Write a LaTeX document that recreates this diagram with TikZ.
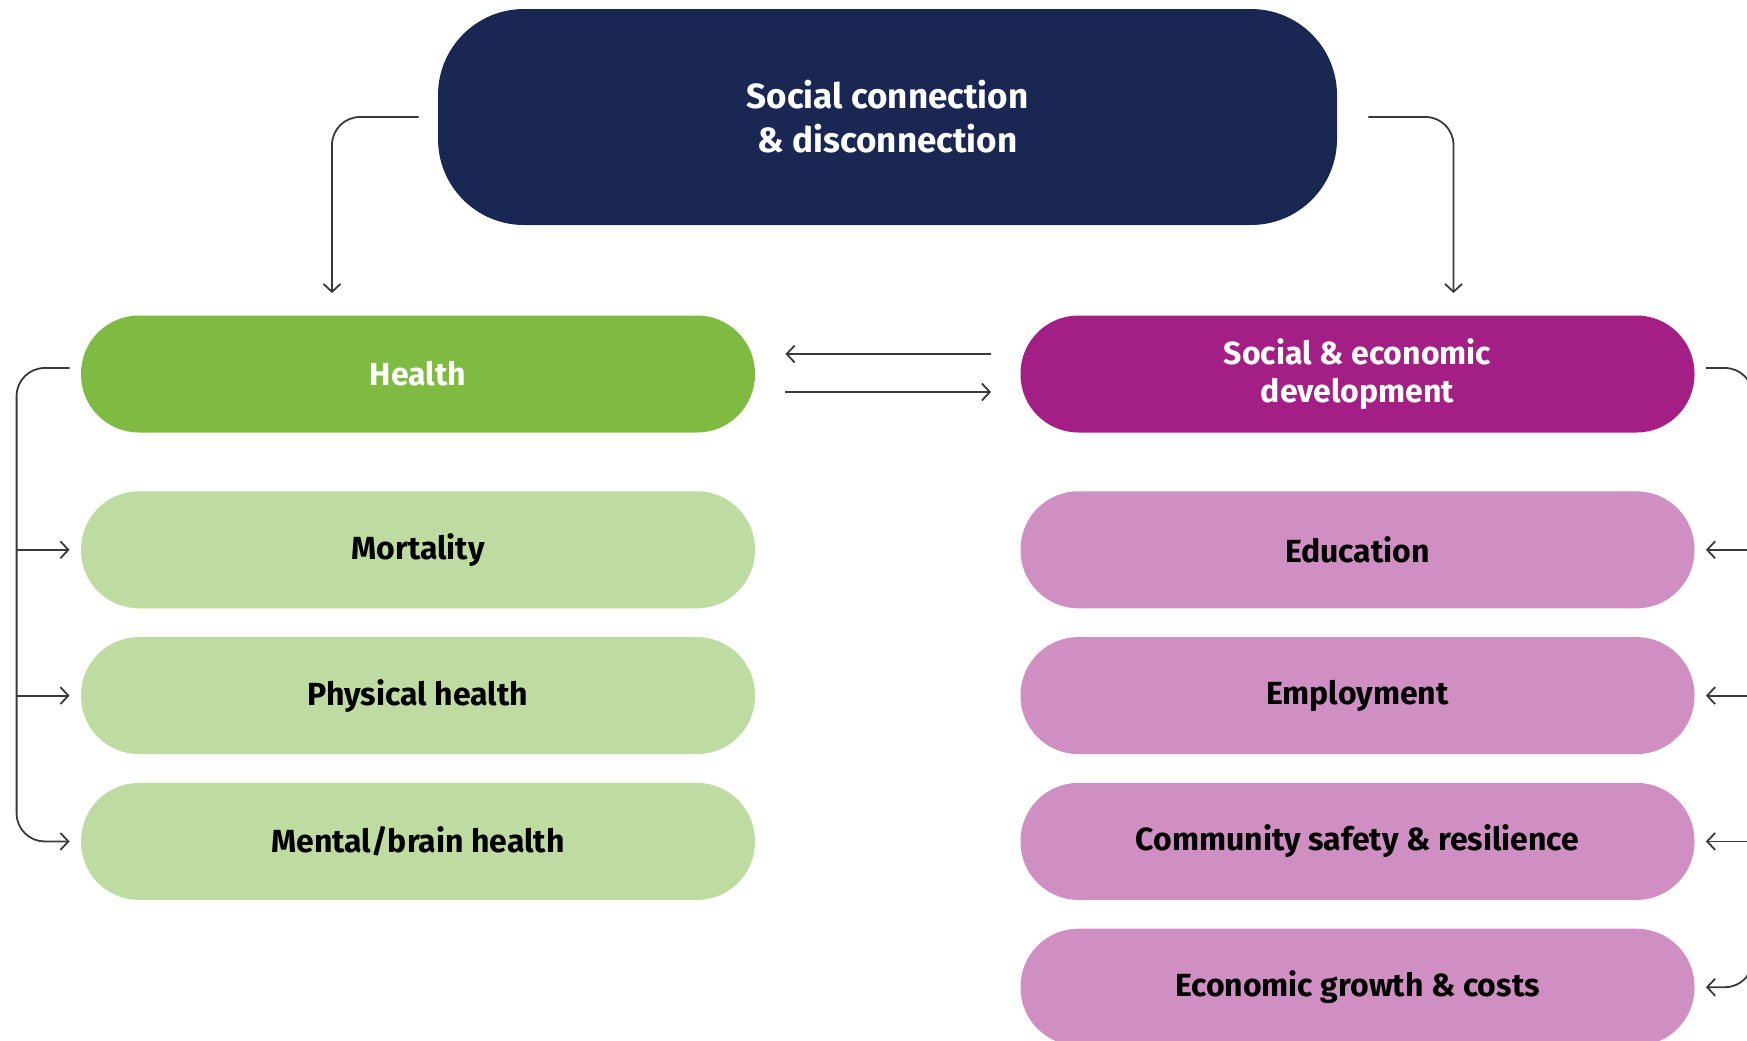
\documentclass[tikz,border=0pt]{standalone}
\usepackage{fontspec}
\setmainfont{Fira Sans}
\usetikzlibrary{arrows.meta,positioning}

\definecolor{navyblue}{HTML}{1A2753}
\definecolor{healthgreen}{HTML}{7FBA42}
\definecolor{palegreen}{HTML}{BEDCA2}
\definecolor{plum}{HTML}{A41F85}
\definecolor{palepink}{HTML}{D08FC3}
\definecolor{linegrey}{HTML}{3A3A3A}

\tikzset{
  pill/.style={rounded corners=29pt,minimum width=337pt,minimum height=58.5pt,
    align=center,inner sep=0pt,font=\fontsize{16}{19}\selectfont\bfseries},
  headpill/.style={pill,text=white},
  subpill/.style={pill,text=black},
  link/.style={draw=linegrey,line width=0.9pt,-{Straight Barb[length=4pt,width=8.5pt]}},
  bendlink/.style={link,rounded corners=14pt}
}

\begin{document}
\begin{tikzpicture}[x=0.5pt,y=-0.5pt]

\path[use as bounding box] (0,0) rectangle (1747,1040);
\clip (0,0) rectangle (1747,1040);

% top
\node[headpill,fill=navyblue,minimum width=449.5pt,minimum height=108pt,rounded corners=43pt,
  font=\fontsize{17.5}{22}\selectfont\bfseries] (soc) at (887.5,117) {Social connection\\\& disconnection};

% the two columns
\node[headpill,fill=healthgreen] (health) at (418,374) {Health};
\node[subpill,fill=palegreen,below=29pt of health] (mort) {Mortality};
\node[subpill,fill=palegreen,below=14pt of mort] (phys) {Physical health};
\node[subpill,fill=palegreen,below=14pt of phys] (ment) {Mental/brain health};

\node[headpill,fill=plum] (socec) at (1357.5,374) {Social \& economic\\development};
\node[subpill,fill=palepink,below=29pt of socec] (edu) {Education};
\node[subpill,fill=palepink,below=14pt of edu] (emp) {Employment};
\node[subpill,fill=palepink,below=14pt of emp] (comm) {Community safety \& resilience};
\node[subpill,fill=palepink,below=14pt of comm] (econ) {Economic growth \& costs};

\coordinate (lbar) at ([xshift=-32pt]health.west);
\coordinate (rbar) at ([xshift=29pt]socec.east);

% arrows
\draw[bendlink] ([xshift=-9.5pt]soc.west) -| ([shift={(-43pt,11pt)}]health.north);
\draw[bendlink] ([xshift=15.5pt]soc.east) -| ([shift={(48pt,11pt)}]socec.north);

\draw[link] ([shift={(-14.5pt,10pt)}]socec.west) -- ([shift={(15pt,10pt)}]health.east);
\draw[link] ([shift={(15pt,-9pt)}]health.east) -- ([shift={(-14.5pt,-9pt)}]socec.west);

\draw[bendlink] ([shift={(-5.5pt,3pt)}]health.west) -| (lbar |- ment.west) -- ([xshift=-5.5pt]ment.west);
\draw[link] (lbar |- mort.west) -- ([xshift=-5.5pt]mort.west);
\draw[link] (lbar |- phys.west) -- ([xshift=-5.5pt]phys.west);

\draw[bendlink] ([shift={(5.5pt,3pt)}]socec.east) -| (rbar |- econ.east) -- ([xshift=5.5pt]econ.east);
\draw[link] (rbar |- edu.east) -- ([xshift=5.5pt]edu.east);
\draw[link] (rbar |- emp.east) -- ([xshift=5.5pt]emp.east);
\draw[link] (rbar |- comm.east) -- ([xshift=5.5pt]comm.east);

\end{tikzpicture}
\end{document}
